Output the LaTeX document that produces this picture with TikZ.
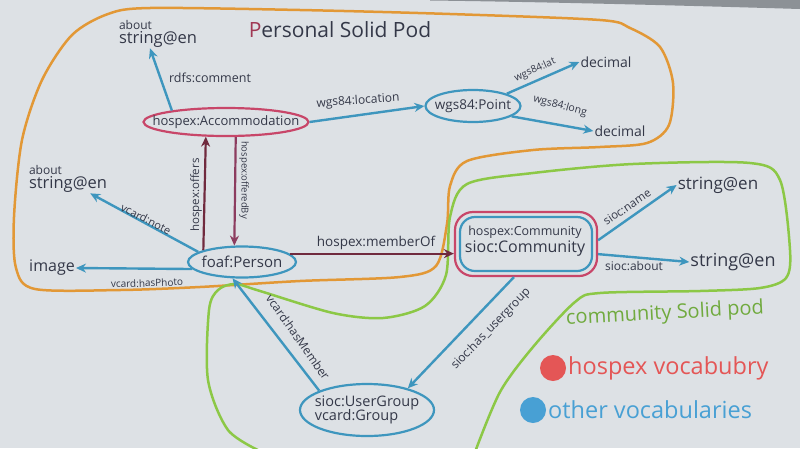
\documentclass[tikz,border=0pt]{standalone}
\usepackage{fontspec}
\setmainfont{Open Sans}
\usetikzlibrary{arrows.meta,shapes.geometric}
\definecolor{paper}{RGB}{221,225,229}
\definecolor{ink}{RGB}{52,56,72}
\definecolor{podorange}{RGB}{226,152,54}
\definecolor{podgreen}{RGB}{140,200,70}
\definecolor{hred}{RGB}{200,70,105}
\definecolor{oblue}{RGB}{62,150,190}
\definecolor{dred}{RGB}{112,42,62}
\definecolor{pred}{RGB}{140,60,95}
\definecolor{legred}{RGB}{228,86,86}
\definecolor{legblue}{RGB}{72,160,212}
\definecolor{lgreen}{RGB}{112,170,62}
\definecolor{edge}{RGB}{140,145,150}
\newcommand\myfs[1]{\fontsize{#1}{#1}\selectfont}
\begin{document}
\begin{tikzpicture}[x=1pt,y=-1pt,
  lbl/.style={text=ink, inner sep=1pt},
  ellnode/.style={ellipse, draw, line width=2.2pt, inner sep=0pt, fill=paper},
  barrow/.style={draw=oblue, line width=2.4pt, -{Stealth[length=10pt,width=9pt]}},
  rarrow/.style={draw=dred, line width=2.2pt, -{Stealth[length=10pt,width=9pt]}},
  parrow/.style={draw=pred, line width=2.2pt, -{Stealth[length=10pt,width=9pt]}}]
\useasboundingbox (0,0) rectangle (800,448);
\fill[paper] (0,0) rectangle (800,448);
\fill[edge] (430,0) -- (800,0) -- (800,9) .. controls (700,6) and (550,2) .. (430,0.5) -- cycle;

% pods
\draw[podorange, line width=2.5pt] plot[smooth cycle, tension=0.5] coordinates {
 (447,224) (450,186) (467,161) (533,150) (600,147) (647,143) (669,125) (673,83)
 (660,47) (630,28) (600,20) (450,14) (300,10) (150,8) (108,14) (72,35) (42,80)
 (22,140) (14,217) (16,268) (35,289) (120,290) (200,287) (300,281) (400,277) (436,266)};
\draw[podgreen, line width=2.5pt] plot[smooth, tension=0.5] coordinates {
 (262,452) (228,430) (208,380) (209,310) (218,290) (235,284) (260,291) (333,313) (383,318)
 (425,306) (446,275) (450,217) (467,184) (533,173) (633,164) (750,163) (780,180)
 (790,250) (786,278) (760,288) (700,291) (600,293) (575,302) (533,347) (500,392) (475,452)};

% title
\node[lbl, font=\myfs{21}] (title) at (340,30) {\textcolor{hred!80!black}{P}ersonal Solid Pod};

% nodes
\node[ellnode, draw=hred, minimum width=165pt, minimum height=28pt] (acc) at (226,122) {};
\node[lbl, font=\myfs{13}] (acct) at (acc) {hospex:Accommodation};
\node[ellnode, draw=oblue, minimum width=95pt, minimum height=32pt] (pt) at (473,106) {};
\node[lbl, font=\myfs{13.5}] (ptt) at (pt) {wgs84:Point};
\node[ellnode, draw=oblue, minimum width=108pt, minimum height=31pt] (person) at (242,262) {};
\node[lbl, font=\myfs{15}] (persont) at (person) {foaf:Person};
\node[ellnode, draw=oblue, minimum width=134pt, minimum height=52pt] (ug) at (367,410) {};
\node[lbl, font=\myfs{14.5}, align=left] (ugt) at (ug) {sioc:UserGroup\\vcard:Group};
\node[draw=hred, line width=2.2pt, rounded corners=18pt, fill=paper, minimum width=142pt, minimum height=64pt] (comm) at (526,244) {};
\node[draw=oblue, line width=2.2pt, rounded corners=15pt, minimum width=132pt, minimum height=54pt] (commin) at (comm) {};
\node[lbl, align=center] (commt) at (525,241) {{\myfs{12.5}hospex:Community}\\[1pt]{\myfs{16}sioc:Community}};

\node[lbl, align=left] (about1) at (158,34) {{\myfs{12}about}\\{\myfs{16.5}string@en}};
\node[lbl, align=left] (about2) at (68,179) {{\myfs{12}about}\\{\myfs{16.5}string@en}};
\node[lbl, font=\myfs{16}] (image) at (52,268) {image};
\node[lbl, font=\myfs{14}] (dec1) at (606,62) {decimal};
\node[lbl, font=\myfs{14}] (dec2) at (620,131) {decimal};
\node[lbl, font=\myfs{17}] (str1) at (718,185) {string@en};
\node[lbl, font=\myfs{18}] (str2) at (733,262) {string@en};

% connectors
\draw[barrow] (acc.168) -- ([xshift=-8pt]about1.south);
\draw[barrow] (acc.east) -- (pt.west);
\draw[barrow] (pt.20) -- (dec1.west);
\draw[barrow] (pt.-15) -- (dec2.west);
\draw[rarrow] (person.163) -- (acc.216);
\draw[parrow] (acc.-57) -- (person.115);
\draw[barrow] (person.167) -- ([xshift=-18pt]about2.south east);
\draw[barrow] (person.188) -- (image.east);
\draw[rarrow] (person.10) -- (comm.west |- person.10);
\draw[barrow] (comm.3) -- (str1.west);
\draw[barrow] (comm.-8) -- (str2.west);
\draw[barrow] (comm.-110) -- (ug.28);
\draw[barrow] (ug.158) -- (person.-120);

% connector labels
\node[lbl, font=\myfs{12.5}] (l1) at (210,78) {rdfs:comment};
\node[lbl, font=\myfs{12}, rotate=4] (l2) at (358,101) {wgs84:location};
\node[lbl, font=\myfs{10}, rotate=24] (l3) at (535,70) {wgs84:lat};
\node[lbl, font=\myfs{10.5}, rotate=-15] (l4) at (560,106) {wgs84:long};
\node[lbl, font=\myfs{11.5}, rotate=90] (l5) at (196,195) {hospex:offers};
\node[lbl, font=\myfs{9.5}, rotate=-90] (l6) at (244,180) {hospex:offeredBy};
\node[lbl, font=\myfs{11}, rotate=-27] (l7) at (146,219) {vcard:note};
\node[lbl, font=\myfs{10}, rotate=2] (l8) at (147,283) {vcard:hasPhoto};
\node[lbl, font=\myfs{13.5}] (l9) at (376,243) {hospex:memberOf};
\node[lbl, font=\myfs{11.5}, rotate=34] (l10) at (627,207) {sioc:name};
\node[lbl, font=\myfs{12}] (l11) at (634,266) {sioc:about};
\node[lbl, font=\myfs{12}, rotate=46] (l12) at (491,329) {sioc:has\_usergroup};
\node[lbl, font=\myfs{12}, rotate=-55] (l13) at (298,337) {vcard:hasMember};

% pod label and legend
\node[text=lgreen, font=\myfs{20}, rotate=3] (cpod) at (665,314) {community Solid pod};
\node[circle, fill=legred, minimum size=26pt, inner sep=0pt] (dotr) at (553,368) {};
\node[text=legred, font=\myfs{23.5}, anchor=west, inner sep=1pt] (legr) at (567,368) {hospex vocabubry};
\node[circle, fill=legblue, minimum size=26pt, inner sep=0pt] (dotb) at (533,410) {};
\node[text=legblue, font=\myfs{23.5}, anchor=west, inner sep=1pt] (legb) at (547,410) {other vocabularies};
\end{tikzpicture}
\end{document}
